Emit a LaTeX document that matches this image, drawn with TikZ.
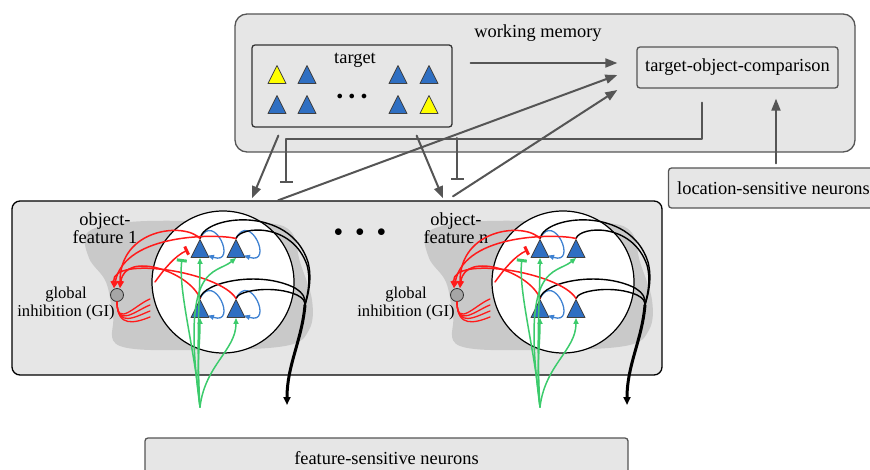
\documentclass[tikz,border=0pt]{standalone}
\usepackage{fontspec}
\setmainfont{Liberation Serif}
\usetikzlibrary{shapes.geometric,arrows.meta}
\definecolor{boxgray}{HTML}{E6E6E6}
\definecolor{blobgray}{HTML}{C9C9C9}
\definecolor{arrgray}{HTML}{555555}
\definecolor{nblue}{HTML}{2F6FC2}
\definecolor{lblue}{HTML}{3F82D2}
\definecolor{sgreen}{HTML}{3CCB6C}
\definecolor{ired}{HTML}{FF1A1A}
\definecolor{nyellow}{HTML}{FFFF00}
\begin{document}
\begin{tikzpicture}[x=1pt, y=-1pt, line join=round, line cap=round,
    font=\fontsize{18.4}{18}\selectfont,
    box/.style={draw=arrgray, line width=1.3pt, fill=boxgray, rounded corners=3pt, inner sep=0pt},
    neuron/.style={isosceles triangle, isosceles triangle stretches, shape border rotate=90,
      minimum width=18pt, minimum height=18pt, inner sep=0pt, draw=black!75, line width=0.8pt, fill=nblue},
    garrow/.style={arrgray, line width=2pt, -{Triangle[length=12pt,width=9pt]}},
    ginh/.style={arrgray, line width=2pt, -{Bar[width=13pt]}},
    exc/.style={ired, line width=1.5pt, -{Triangle[length=7pt,width=6pt]}},
    syn/.style={sgreen, line width=1.5pt, -{Triangle[length=6pt,width=5pt]}},
    bloop/.style={lblue, line width=1.3pt, -{Triangle[length=6pt,width=5pt]}},
    axon/.style={black, line width=1.4pt}]
\useasboundingbox (0,0) rectangle (870,470);
\clip (0,0) rectangle (870,470);

% working memory
\node[box, rounded corners=12pt, minimum width=620pt, minimum height=138pt] (wm) at (545,83) {};
\node (wmlbl) at (538,33) {working memory};
\node[box, draw=black!80, minimum width=200pt, minimum height=82pt] (tgt) at (352,86) {};
\node (tgtlbl) at (355,60) {target};
\foreach \px/\py/\col [count=\i] in {277/78/nyellow, 307/78/nblue, 398/78/nblue, 429/78/nblue,
    277/108/nblue, 307/108/nblue, 398/108/nblue, 429/108/nyellow}
  \node[neuron, fill=\col] (t\i) at (\px,\py) {};
\node (tdots) at (352,97) {\fontsize{12}{12}\selectfont$\bullet\hskip3.5pt\bullet\hskip3.5pt\bullet$};
\node[box, minimum width=201pt, minimum height=41pt] (cmp) at (737.5,67.5) {target-object-comparison};
\node[box, minimum width=210pt, minimum height=40pt] (loc) at (773.5,188) {location-sensitive neurons};

% object-feature modules
\node[box, draw=black, rounded corners=8pt, minimum width=650pt, minimum height=174pt] (feat) at (337,288) {};
\node (fdots) at (360,233) {$\bullet\hskip9pt\bullet\hskip9pt\bullet$};
\foreach \m/\dx/\tx/\loops in {1/0/105/{ul,ur,ll,lr}, n/340/116/{ul,ll}}{
  \begin{scope}[xshift=\dx pt]
    \fill[blobgray] plot[smooth cycle, tension=0.6] coordinates {(88,232) (130,222) (200,221) (268,223)
      (292,233) (300,262) (312,300) (309,330) (285,346) (200,350) (120,346) (113,316) (106,282) (89,258)};
    \node[circle, draw, line width=1.2pt, fill=white, minimum size=142pt, inner sep=0pt] (c\m) at (223,282) {};
    \node[align=center] (ofl\m) at (\tx,228) {object-\\feature \m};
    \node[font=\fontsize{16.6}{18}\selectfont, align=center] (gil\m) at (66,304) {global\\inhibition (GI)};
    \node[circle, draw=black!80, fill=black!35, line width=0.8pt, minimum size=13pt, inner sep=0pt] (gi\m) at (117,295) {};
    \node[neuron] (ul\m) at (200,252) {};
    \node[neuron] (ur\m) at (236,252) {};
    \node[neuron] (ll\m) at (200,312) {};
    \node[neuron] (lr\m) at (236,312) {};
    % self excitation
    \foreach \k in \loops
      \draw[bloop] (\k\m.apex) .. controls +(14,-28) and +(30,10) .. +(8,17);
    % outputs
    \coordinate (m\m) at (305,305);
    \draw[axon] (ul\m.apex) .. controls (205,215) and (290,205) .. (308,262) .. controls (312,278) and (309,292) .. (m\m);
    \draw[axon] (ur\m.apex) .. controls (240,226) and (292,222) .. (307,265) .. controls (311,280) and (308,292) .. (m\m);
    \draw[axon] (ll\m.apex) .. controls (203,282) and (260,270) .. (295,288) .. controls (303,293) and (306,298) .. (m\m);
    \draw[axon] (lr\m.apex) .. controls (238,290) and (275,285) .. (297,295) .. controls (303,298) and (305,301) .. (m\m);
    \draw[black, line width=3pt, -{Triangle[length=8pt,width=7pt]}] (m\m) .. controls (302,340) and (287,365) .. (287,405);
    % global inhibition
    \draw[exc] (ul\m.apex) .. controls (185,222) and (120,228) .. ([xshift=3pt]gi\m.north);
    \draw[exc] (ur\m.apex) .. controls (220,234) and (125,232) .. ([xshift=-3pt]gi\m.north);
    \draw[exc] (ll\m.apex) .. controls (190,272) and (125,250) .. ([xshift=3pt]gi\m.north);
    \draw[exc] (lr\m.apex) .. controls (220,272) and (112,255) .. ([xshift=-3pt]gi\m.north);
    \foreach \e in {299,305,311,317}
      \draw[ired, line width=1.3pt] (gi\m.south) .. controls (117,328) and (135,\e+6) .. (150,\e);
    \draw[ired, line width=1.5pt, -{Bar[width=9pt, line width=3pt]}] (155,282) .. controls (165,268) and (175,256) .. ([xshift=-12pt,yshift=8pt]ul\m.lower side);
    % feature input
    \coordinate (g\m) at (200,407);
    \draw[sgreen, line width=1.5pt, -{Bar[width=10pt, line width=3pt]}] (g\m) .. controls (195,350) and (178,290) .. (182,259);
    \draw[syn] (g\m) .. controls (196,340) and (200,295) .. (ul\m.lower side);
    \draw[syn] (g\m) .. controls (180,262) and (215,275) .. (ur\m.lower side);
    \draw[syn] (g\m) .. controls (196,370) and (200,345) .. (ll\m.lower side);
    \draw[syn] (g\m) .. controls (205,365) and (236,350) .. (lr\m.lower side);
  \end{scope}}
\node[box, minimum width=483pt, minimum height=40pt] (fsn) at (386.5,458) {feature-sensitive neurons};

% top-down and bottom-up
\draw[garrow] ([xshift=18pt,yshift=23pt]tgt.east) -- ([xshift=-19pt,yshift=4.5pt]cmp.west);
\draw[garrow] ([xshift=27pt,yshift=-8pt]tgt.south west) -- ([xshift=-85pt,yshift=2pt]feat.north);
\draw[garrow] ([xshift=-36pt,yshift=-8pt]tgt.south east) -- ([xshift=106pt,yshift=2pt]feat.north);
\draw[garrow] ([xshift=-59pt]feat.north) -- ([xshift=-19pt,yshift=-7.5pt]cmp.west);
\draw[garrow] ([xshift=116pt,yshift=4pt]feat.north) -- ([xshift=-19pt,yshift=-22.5pt]cmp.west);
\draw[ginh] ([xshift=-35.5pt,yshift=-14pt]cmp.south) -- ++(0,36) -| ([xshift=-51pt,yshift=17pt]feat.north);
\coordinate (bus) at (457,138);
\draw[ginh] (bus) -- ([xshift=120pt,yshift=20pt]feat.north);
\draw[garrow] ([xshift=2.5pt,yshift=4pt]loc.north) -- ([xshift=38.5pt,yshift=-10pt]cmp.south);
\end{tikzpicture}
\end{document}
